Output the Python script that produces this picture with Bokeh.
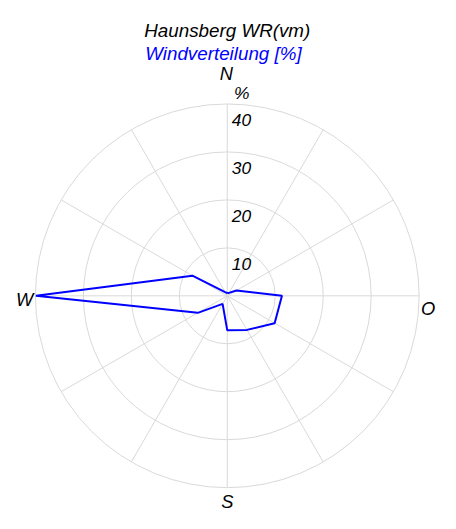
import numpy as np
from bokeh.plotting import figure
from bokeh.models import Label
from bokeh.core.properties import value
from bokeh.embed import file_html
from bokeh.resources import INLINE

# ---- data ----
directions = [0, 30, 60, 90, 120, 150, 180, 210, 240, 270, 300, 330]   # bearing, deg
percent = [0.6, 0.7, 2.2, 11.4, 11.4, 8.2, 7.2, 1.95, 7.1, 39.9, 8.4, 0.9]
rings = [10, 20, 30, 40]
ring_labels = ["10", "20", "30", "40"]
compass = ["N", "O", "S", "W"]
compass_bearing = [0, 90, 180, 270]
title_1 = "Haunsberg WR(vm)"
title_2 = "Windverteilung [%]"
unit_label = "%"

FONT = "Liberation Sans"
K = 0.965            # overall scale of layout
PX = 4.97            # layout pixels per percent
W, H = 440, 513
cx, cy = 235 * K, 305 * K + 1   # centre in canvas px (from top-left)
S = PX * K           # canvas px per percent


def fs(px):
    return "%.1fpx" % (px * K)


p = figure(width=W, height=H, output_backend="svg", toolbar_location=None,
           x_range=(-cx / S, (W - cx) / S), y_range=(-(H - cy) / S, cy / S),
           min_border=0, outline_line_color=None)
p.axis.visible = False
p.grid.visible = False
p.background_fill_color = "white"
p.border_fill_color = "white"

grid_col = "#d9d9d9"
rmax = rings[-1]

# rings
p.circle(x=[0] * len(rings), y=[0] * len(rings), radius=rings,
         fill_color=None, line_color=grid_col, line_width=1)

# spokes
spokes = np.arange(0, 360, 30)
th = np.radians(spokes)
p.segment(x0=np.zeros(len(th)), y0=np.zeros(len(th)),
          x1=rmax * np.sin(th), y1=rmax * np.cos(th),
          line_color=grid_col, line_width=1)

# data polygon
t = np.radians(directions)
xs = np.array(percent) * np.sin(t)
ys = np.array(percent) * np.cos(t)
xs = np.append(xs, xs[0])
ys = np.append(ys, ys[0])
p.line(xs, ys, line_color="#0000ff", line_width=2)

# ring labels (offsets in layout px)
lab_dx = 14.7 / PX
lab_dy = 16.5 / PX
p.text(x=[lab_dx] * len(rings), y=[r - lab_dy for r in rings], text=ring_labels,
       text_font=value(FONT), text_font_style="italic", text_font_size=fs(18),
       text_color="black", text_align="center", text_baseline="middle")
p.text(x=[15.0 / PX], y=[rmax + 11.7 / PX], text=[unit_label],
       text_font=value(FONT), text_font_style="italic", text_font_size=fs(18),
       text_color="black", text_align="center", text_baseline="middle")

# compass labels
comp_r = [230.5 / PX, 208.0 / PX, 213.0 / PX, 210.0 / PX]
comp_dy = [0.0, -13.0 / PX, 0.0, -4.0 / PX]
comp_dx = [-1.0 / PX, 0.0, 0.0, 0.0]
cb = np.radians(compass_bearing)
p.text(x=[r * np.sin(b) + dx for r, b, dx in zip(comp_r, cb, comp_dx)],
       y=[r * np.cos(b) + dy for r, b, dy in zip(comp_r, cb, comp_dy)],
       text=compass,
       text_font=value(FONT), text_font_style="italic", text_font_size=fs(19),
       text_color="black", text_align="center", text_baseline="middle")

# titles
p.add_layout(Label(x=235 * K, y=H - 30.3 * K - 1, x_units="screen", y_units="screen", text=title_1,
                   text_font=FONT, text_font_style="italic", text_font_size=fs(19.5),
                   text_color="black", text_align="center", text_baseline="alphabetic"))
p.add_layout(Label(x=231 * K, y=H - 53.6 * K - 1, x_units="screen", y_units="screen", text=title_2,
                   text_font=FONT, text_font_style="italic", text_font_size=fs(19.5),
                   text_color="#0000ff", text_align="center", text_baseline="alphabetic"))

open("out.html", "w").write(file_html(p, INLINE))
